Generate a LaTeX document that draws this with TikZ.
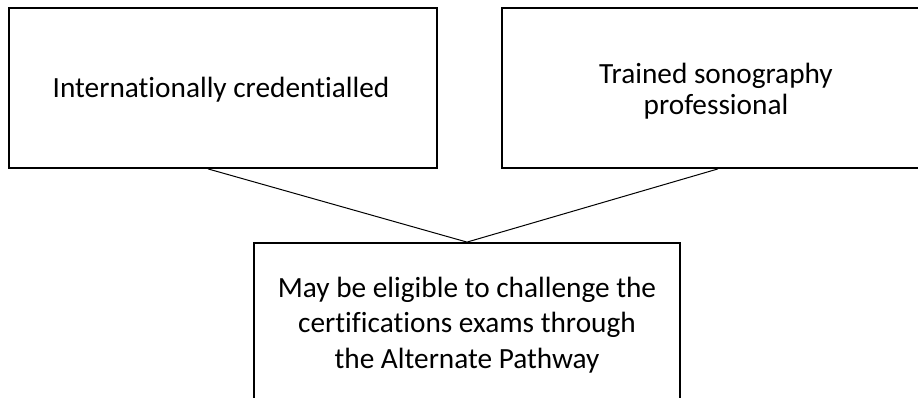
\documentclass[tikz,border=0pt]{standalone}
\usepackage{fontspec}
\setmainfont{Carlito}[Ligatures=NoCommon]
\usetikzlibrary{calc}
\newcommand\mystrut{\rule[-8pt]{0pt}{30pt}}
\begin{document}
\begin{tikzpicture}[x=1pt,y=1pt,
  box/.style={draw=black, line width=1.8pt, minimum width=428pt, minimum height=160pt,
    inner sep=0pt},
  label/.style={align=center, inner sep=0pt},
  link/.style={draw=black, line width=1pt}]
\useasboundingbox (0,0) rectangle (918,397);
\clip (0,0) rectangle (918,397);
\node[box] (a) at (223,309) {};
\node[box] (b) at (716,309) {};
\node[box, minimum width=426pt, minimum height=164pt] (c) at (467,72) {};
\node[label, font=\fontsize{29.3}{31}\selectfont] (at) at (221,306) {\mystrut Internationally credentialled};
\node[label, font=\fontsize{29.3}{31}\selectfont] (bt) at (716,304.5) {\mystrut Trained sonography\\\mystrut professional};
\node[label, font=\fontsize{29.3}{35.5}\selectfont] (ct) at (467,71.5)
  {\mystrut May be eligible to challenge the\\\mystrut certifications exams through\\\mystrut the Alternate Pathway};
\draw[link] ($(a.south)+(-15,0)$) -- (c.north);
\draw[link] ($(b.south)+(2,0)$) -- (c.north);
\end{tikzpicture}
\end{document}
